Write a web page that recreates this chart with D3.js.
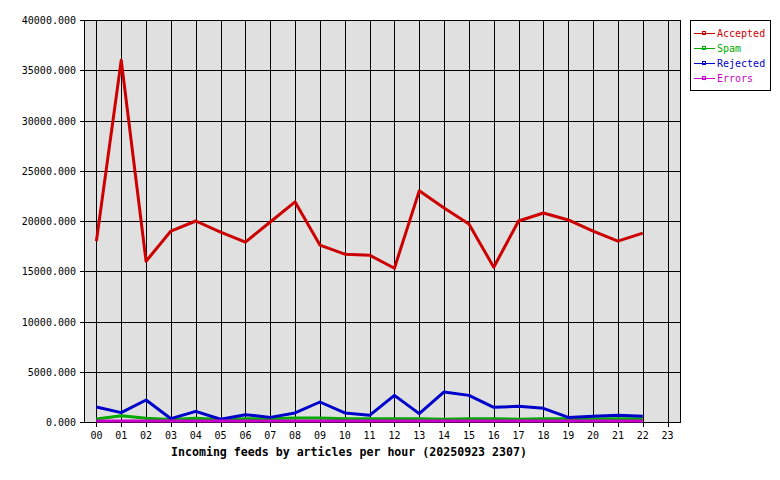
<!DOCTYPE html>
<html><head><meta charset="utf-8">
<script src="https://cdn.jsdelivr.net/npm/d3@7/dist/d3.min.js"></script>
<style>body{margin:0;background:#fff}svg{display:block}text{font-family:"DejaVu Sans Mono",monospace}</style>
</head><body><svg id="c" width="780" height="480"></svg>
<script>
const hours = ["00","01","02","03","04","05","06","07","08","09","10","11","12","13","14","15","16","17","18","19","20","21","22","23"];
const yTicks = [0,5000,10000,15000,20000,25000,30000,35000,40000];
const accepted = [18000,36000,16000,19000,20000,18900,17900,19900,21900,17600,16700,16600,15300,23000,21300,19700,15400,20000,20800,20100,19000,18000,18800];
const spam = [300,630,370,250,370,250,330,330,400,400,330,330,330,330,270,330,330,270,330,330,330,330,330];
const rejected = [1490,930,2190,330,1060,270,730,460,900,1990,900,660,2650,830,2990,2650,1460,1560,1360,460,560,660,560];
const errors = [110,110,110,110,110,110,110,110,110,110,110,110,110,110,110,110,110,110,110,110,110,110,110];
const seriesNames = ["Accepted","Spam","Rejected","Errors"];
const seriesColors = ["#cc0000","#00aa00","#0000cc","#cc00cc"];
const title = "Incoming feeds by articles per hour (20250923 2307)";

const svg = d3.select("#c");
const L=84,R=680,T=20,B=422;
const x = d3.scaleLinear().domain([-0.5,23.5]).range([L,R]);
const y = d3.scaleLinear().domain([0,40000]).range([B,T]);

svg.append("rect").attr("x",L).attr("y",T).attr("width",R-L).attr("height",B-T).attr("fill","#e0e0e0");

// grid
const g = svg.append("g").attr("shape-rendering","crispEdges");
g.selectAll("line.v").data(hours).join("line")
  .attr("x1",(d,i)=>Math.round(x(i))+0.5).attr("x2",(d,i)=>Math.round(x(i))+0.5)
  .attr("y1",T).attr("y2",B+5).attr("stroke","#000");
g.selectAll("line.h").data(yTicks).join("line")
  .attr("x1",L-4).attr("x2",R).attr("y1",d=>Math.round(y(d))+0.5).attr("y2",d=>Math.round(y(d))+0.5).attr("stroke","#000");
g.append("rect").attr("x",L+0.5).attr("y",T+0.5).attr("width",R-L).attr("height",B-T).attr("fill","none").attr("stroke","#000");

// axes labels
svg.selectAll("text.yl").data(yTicks).join("text")
  .attr("x",76).attr("y",d=>y(d)+4).attr("text-anchor","end").attr("font-size",10).text(d=>d3.format(".3f")(d));
svg.selectAll("text.xl").data(hours).join("text")
  .attr("x",(d,i)=>x(i)).attr("y",439).attr("text-anchor","middle").attr("font-size",10).text(d=>d);
svg.append("text").attr("x",349).attr("y",456).attr("text-anchor","middle").attr("font-size",11.6).attr("font-weight","bold").text(title);

// lines
const line = d3.line().x((d,i)=>x(i)).y(d=>y(d));
[accepted,spam,rejected,errors].forEach((s,k)=>{
  svg.append("path").datum(s).attr("d",line).attr("fill","none").attr("stroke",seriesColors[k]).attr("stroke-width",3).attr("stroke-linejoin","round");
});
// redraw errors on top? order: errors last already

// legend
const lg = svg.append("g");
lg.append("rect").attr("x",690.5).attr("y",20.5).attr("width",80).attr("height",70).attr("fill","#fff").attr("stroke","#000").attr("shape-rendering","crispEdges");
seriesNames.forEach((n,k)=>{
  const yy = 33 + k*15;
  lg.append("line").attr("x1",694).attr("x2",715).attr("y1",yy+0.5).attr("y2",yy+0.5).attr("stroke",seriesColors[k]).attr("shape-rendering","crispEdges");
  lg.append("rect").attr("x",702.5).attr("y",yy-1.5).attr("width",3).attr("height",3).attr("fill","none").attr("stroke",seriesColors[k]).attr("shape-rendering","crispEdges");
  lg.append("text").attr("x",717).attr("y",yy+4).attr("font-size",10).attr("fill",seriesColors[k]).text(n);
});
</script></body></html>
